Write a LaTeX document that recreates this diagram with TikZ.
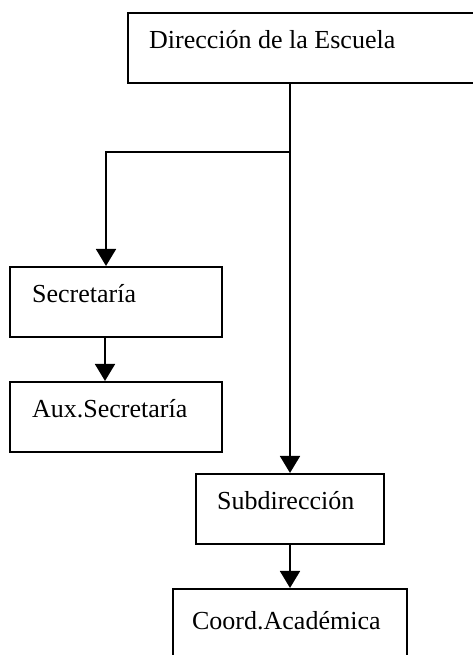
\documentclass[tikz,border=0pt]{standalone}
\usepackage{fontspec}
\setmainfont{Liberation Serif}
\usetikzlibrary{arrows.meta}
\tikzset{
  box/.style={draw=black, line width=2.1pt, rectangle, inner sep=0pt},
  lbl/.style={anchor=base west, inner sep=0pt, font=\fontsize{26}{31}\selectfont},
  arr/.style={line width=1.9pt, -{Triangle[length=17pt,width=20pt]}},
  link/.style={line width=1.9pt}
}
\begin{document}
\begin{tikzpicture}[x=1pt,y=-1pt]
\useasboundingbox (0,0) rectangle (473,655);
\fill[white] (0,0) rectangle (473,655);
\clip (0,0) rectangle (473,655);
% boxes
\node[box, minimum width=362pt, minimum height=70pt] (dir) at (309,48) {};
\node[box, minimum width=212pt, minimum height=70pt] (sec) at (116,302) {};
\node[box, minimum width=212pt, minimum height=70pt] (aux) at (116,417) {};
\node[box, minimum width=188pt, minimum height=70pt] (sub) at (290,509) {};
\node[box, minimum width=234pt, minimum height=80pt] (coo) at (290,629) {};
% labels
\node[lbl] (dirt) at ([xshift=22pt,yshift=-1pt]dir.west) {Dirección de la Escuela};
\node[lbl] (sect) at ([xshift=23pt]sec.west) {Secretaría};
\node[lbl] (auxt) at ([xshift=23pt]aux.west) {Aux.Secretaría};
\node[lbl] (subt) at ([xshift=22pt]sub.west) {Subdirección};
\node[lbl] (coot) at ([xshift=20pt]coo.west) {Coord.Académica};
% connectors
\coordinate (br) at (290,152);
\draw[arr] (sub.north |- dir.south) -- (sub.north);
\draw[arr] (br) -| ([xshift=-10pt]sec.north);
\draw[arr] ([xshift=-11pt]sec.south) -- ([xshift=-11pt]aux.north);
\draw[arr] (sub.south) -- (coo.north);
\end{tikzpicture}
\end{document}
